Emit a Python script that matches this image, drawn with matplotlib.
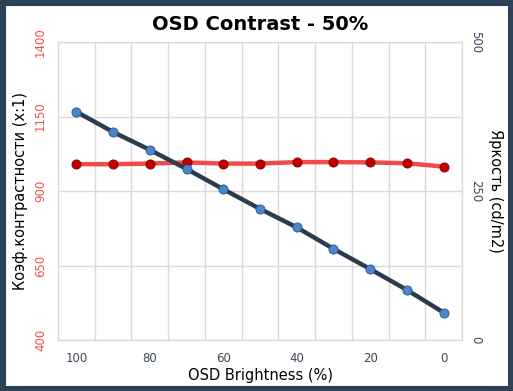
import matplotlib
matplotlib.use("Agg")
import matplotlib.pyplot as plt
from matplotlib.patches import Rectangle

# data
brightness_pct = [100, 90, 80, 70, 60, 50, 40, 30, 20, 10, 0]
contrast = [990, 990, 992, 996, 992, 992, 997, 997, 996, 993, 982]
luminance = [383, 349, 319, 287, 253, 220, 189, 153, 119, 84, 46]
xtick_labels = ["100", "80", "60", "40", "20", "0"]

fig = plt.figure(figsize=(5.13, 3.91), dpi=100)
fig.patches.append(Rectangle((0, 0), 1, 1, transform=fig.transFigure,
                             fill=False, edgecolor="#2e4257", linewidth=8))

ax = fig.add_axes([58 / 513, 1 - 340 / 391, 404 / 513, 298 / 391])
ax2 = ax.twinx()

x = list(range(len(brightness_pct)))

ax.plot(x, contrast, color="#f04a4a", linewidth=3.2, zorder=3,
        marker="o", markersize=6.5, markerfacecolor="#c00000",
        markeredgecolor="#8a0000", markeredgewidth=0.7)
ax2.plot(x, luminance, color="#2a3c4e", linewidth=3.2, zorder=3,
         marker="o", markersize=6.5, markerfacecolor="#4a86c8",
         markeredgecolor="#2a5d99", markeredgewidth=0.7)

ax.set_xlim(-0.5, len(x) - 0.5)
ax.set_ylim(400, 1400)
ax2.set_ylim(0, 500)
ax.set_yticks([400, 650, 900, 1150, 1400])
ax2.set_yticks([0, 250, 500])

ax.set_xticks([i - 0.5 for i in range(len(x) + 1)], minor=True)
ax.set_xticks(x[::2])
ax.set_xticklabels(xtick_labels)
ax.grid(True, which="minor", axis="x", color="#d9d9d9", linewidth=1)
ax.grid(True, which="major", axis="y", color="#d9d9d9", linewidth=1)
ax.tick_params(axis="x", which="both", length=0, pad=9, labelsize=8.5, labelcolor="#3e4a5a")
ax.tick_params(axis="y", length=0, pad=8, labelsize=8.5, labelcolor="#f05050")
for lbl in ax.get_yticklabels():
    lbl.set_rotation(90)
    lbl.set_va("center")
ax2.tick_params(axis="y", length=0, pad=5, labelsize=8.5, labelcolor="#3e4a5a")
for lbl in ax2.get_yticklabels():
    lbl.set_rotation(270)
    lbl.set_va("center")

for a in (ax, ax2):
    for s in a.spines.values():
        s.set_color("#d9d9d9")

ax.set_title("OSD Contrast - 50%", fontsize=14, fontweight="bold", pad=9)
ax.set_xlabel("OSD Brightness (%)", fontsize=10.5, labelpad=2)
ax.set_ylabel("Коэф.контрастности (x:1)", fontsize=10.5, labelpad=4)
ax2.set_ylabel("Яркость (cd/m2)", fontsize=10.5, rotation=270, labelpad=15)

fig.savefig("out.png", dpi=100)
